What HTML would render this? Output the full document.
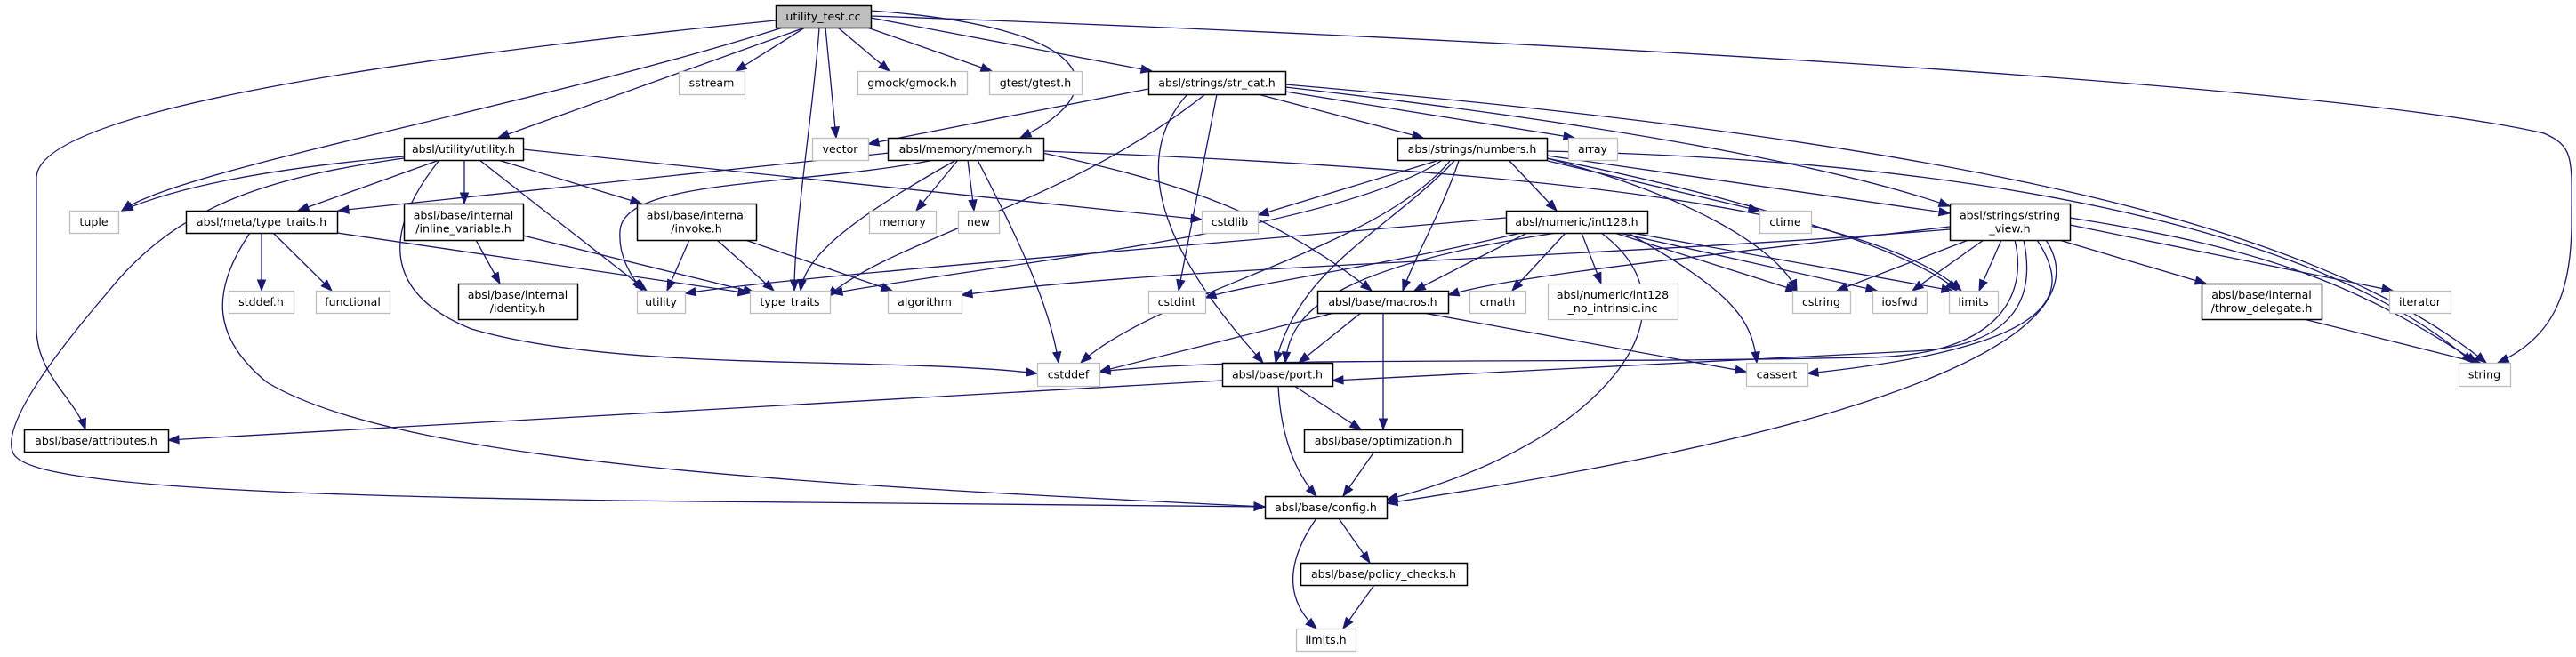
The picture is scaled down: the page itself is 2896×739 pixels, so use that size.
<!DOCTYPE html>
<html><head><meta charset="utf-8"><style>
html,body{margin:0;padding:0;background:#fff;width:2896px;height:739px;overflow:hidden}
svg{display:block}
text{font-family:"DejaVu Sans","Liberation Sans",sans-serif;font-size:12.6px;fill:#000}
</style></head><body>
<svg id="g" width="2896" height="739" viewBox="0 0 2896 739" xmlns="http://www.w3.org/2000/svg">
<g id="edges" fill="none" stroke="#191970" stroke-width="1.3"></g>
<g id="heads" fill="#191970" stroke="#191970"></g>
<g id="nodes"></g>
</svg>
<script>
var nodes=[
["utility_test.cc",872,6,107,25,2],
["sstream",763,80,74,26,0],["gmock/gmock.h",964,80,123,26,0],["gtest/gtest.h",1112,80,104,26,0],
["absl/strings/str_cat.h",1291,80,154,26,1],
["absl/utility/utility.h",454,155,134,25,1],["vector",913,155,63,25,0],
["absl/memory/memory.h",998,155,175,25,1],["absl/strings/numbers.h",1571,155,168,25,1],["array",1763,155,55,25,0],
["tuple",78,237,55,25,0],["absl/meta/type_traits.h",209,237,170,25,1],
["absl/base/internal|/inline_variable.h",454,229,134,41,1],["absl/base/internal|/invoke.h",716,229,134,41,1],
["memory",977,237,75,25,0],["new",1077,237,46,25,0],["cstdlib",1351,237,63,25,0],
["absl/numeric/int128.h",1693,237,159,25,1],["ctime",1978,237,58,25,0],
["absl/strings/string|_view.h",2192,229,135,41,1],
["stddef.h",257,327,73,25,0],["functional",355,327,83,25,0],["absl/base/internal|/identity.h",515,319,134,40,1],
["utility",716,327,54,25,0],["type_traits",843,327,90,25,0],["algorithm",998,327,83,25,0],
["cstdint",1291,327,64,25,0],["absl/base/macros.h",1481,327,147,25,1],["cmath",1652,327,63,25,0],
["absl/numeric/int128|_no_intrinsic.inc",1740,319,146,40,0],
["cstring",2015,327,65,25,0],["iosfwd",2105,327,61,25,0],["limits",2191,327,55,25,0],
["absl/base/internal|/throw_delegate.h",2475,319,135,40,1],["iterator",2686,327,69,25,0],
["cstddef",1166,408,70,26,0],["absl/base/port.h",1374,408,124,26,1],["cassert",1963,408,69,26,0],["string",2764,408,58,26,0],
["absl/base/attributes.h",27,483,162,25,1],["absl/base/optimization.h",1466,483,178,25,1],
["absl/base/config.h",1422,558,137,25,1],["absl/base/policy_checks.h",1462,633,187,25,1],["limits.h",1457,707,67,25,0]
];
var edges=[
"M872,23 C500,60 41,120 41,200 L41,370 C41,420 85,450 96,483",
"M880,31 C600,120 200,190 137,237",
"M905,31 L560,155","M905,31 L827,80",
"M921,31 C915,120 893,250 893,327","M928,31 L940,155","M942,31 L1000,80",
"M975,31 L1115,80","M979,20 L1295,80","M979,12 C1230,30 1260,100 1147,155",
"M979,18 C1600,40 2600,90 2860,150 C2895,165 2891,180 2891,250 C2891,330 2870,380 2808,408",
"M454,176 C300,190 200,210 137,237","M494,180 L335,237","M522,180 L522,229","M560,180 L721,229",
"M539,180 L727,327","M588,168 L1351,247",
"M454,178 C300,200 200,230 120,330 C60,400 0,480 15,510 C30,540 200,560 900,565 L1422,570",
"M494,180 C430,260 430,330 530,370 C700,420 1000,400 1166,420",
"M294,262 L294,327","M307,262 L373,327","M379,262 L842,330",
"M281,262 C235,330 240,380 300,430 C450,520 900,545 1422,570",
"M535,270 L562,319","M588,265 L848,329",
"M775,270 L750,327","M806,270 L870,327","M838,270 L1003,327",
"M1000,172 L380,237","M1050,180 C900,210 700,200 697,260 C695,290 710,310 722,327",
"M1075,180 C950,250 905,290 900,327","M1077,180 L1030,237","M1088,180 L1095,237",
"M1099,180 C1140,260 1180,340 1190,408","M1172,172 C1300,200 1420,230 1542,327",
"M1173,170 C1700,190 2100,230 2205,327",
"M1615,181 L1414,242","M1620,181 C1500,260 1100,300 935,330",
"M1630,181 C1550,280 1300,330 1215,408","M1640,181 C1620,240 1590,290 1577,327",
"M1635,181 C1560,260 1460,300 1434,408","M1697,181 L1750,237","M1740,181 L1978,237",
"M1739,175 L2192,240","M1739,178 C1900,220 2000,280 2020,327","M1739,178 C1950,220 2150,280 2200,327",
"M1739,170 C2200,180 2600,250 2780,408",
"M1291,100 L976,162","M1445,103 L1770,155","M1368,106 L1325,327","M1414,106 L1600,155",
"M1445,98 C1900,150 2100,200 2192,232","M1445,95 C2200,160 2600,250 2795,408",
"M1335,106 C1250,200 1350,330 1420,408","M1355,106 C1200,230 1000,270 930,334",
"M1693,245 C1300,280 900,310 770,330","M1710,262 C1550,300 1400,320 1355,335",
"M1717,262 L1590,327","M1760,262 L1700,327","M1778,262 L1800,319","M1815,262 L2020,327",
"M1820,262 L2110,327","M1835,262 L2195,327","M1830,262 C1950,330 1970,360 1975,408",
"M1750,262 C1500,300 1450,350 1445,408","M1800,262 C1920,350 1800,500 1559,562",
"M2192,258 C1800,290 1300,300 1081,332","M2192,255 C1900,290 1700,310 1628,332",
"M2213,270 L2065,327","M2230,270 L2150,327","M2250,270 L2225,327",
"M2265,270 C2280,330 2250,400 2100,402 C1700,410 1400,400 1236,418",
"M2275,270 C2290,340 2260,390 2150,395 L1498,428",
"M2290,270 C2330,330 2320,390 2032,420","M2300,270 C2360,360 2200,470 1559,566",
"M2315,270 L2480,319","M2327,253 L2690,327","M2327,245 C2550,280 2650,320 2785,408",
"M2590,359 L2790,409",
"M1500,352 L1236,418","M1530,352 L1460,408","M1555,352 L1555,483","M1600,352 L1963,418",
"M1374,428 L189,495","M1455,434 L1530,483","M1437,434 C1440,490 1455,530 1480,558",
"M1545,508 L1510,558","M1505,583 L1540,633","M1480,583 C1440,640 1450,680 1480,707","M1545,658 L1510,707"
];
var NS="http://www.w3.org/2000/svg";
var ge=document.getElementById("edges"),gh=document.getElementById("heads"),gn=document.getElementById("nodes");
edges.forEach(function(d){
 var p=document.createElementNS(NS,"path");p.setAttribute("d",d);ge.appendChild(p);
 var n=d.match(/-?\d+(\.\d+)?/g).map(Number);var L=n.length;
 var ex=n[L-2],ey=n[L-1],cx=n[L-4],cy=n[L-3];
 var dx=ex-cx,dy=ey-cy,len=Math.sqrt(dx*dx+dy*dy)||1;dx/=len;dy/=len;
 var bx=ex-dx*12,by=ey-dy*12,px=-dy*4.5,py=dx*4.5;
 var t=document.createElementNS(NS,"polygon");
 t.setAttribute("points",ex+","+ey+" "+(bx+px)+","+(by+py)+" "+(bx-px)+","+(by-py));gh.appendChild(t);
});
nodes.forEach(function(a){
 var r=document.createElementNS(NS,"rect");
 r.setAttribute("x",a[1]+0.5);r.setAttribute("y",a[2]+0.5);r.setAttribute("width",a[3]);r.setAttribute("height",a[4]);
 r.setAttribute("fill",a[5]==2?"#bfbfbf":"#fff");r.setAttribute("stroke",a[5]==0?"#bfbfbf":"#000");r.setAttribute("stroke-width",a[5]==0?"1.3":"1.5");
 gn.appendChild(r);
 var lines=a[0].split("|");var cx=a[1]+a[3]/2;
 lines.forEach(function(s,i){
  var t=document.createElementNS(NS,"text");t.setAttribute("x",cx);t.setAttribute("text-anchor","middle");
  var y=lines.length==1?a[2]+a[4]/2+4.5:a[2]+a[4]/2-3+i*15;
  t.setAttribute("y",y);t.textContent=s;gn.appendChild(t);
 });
});
</script>
</body></html>
